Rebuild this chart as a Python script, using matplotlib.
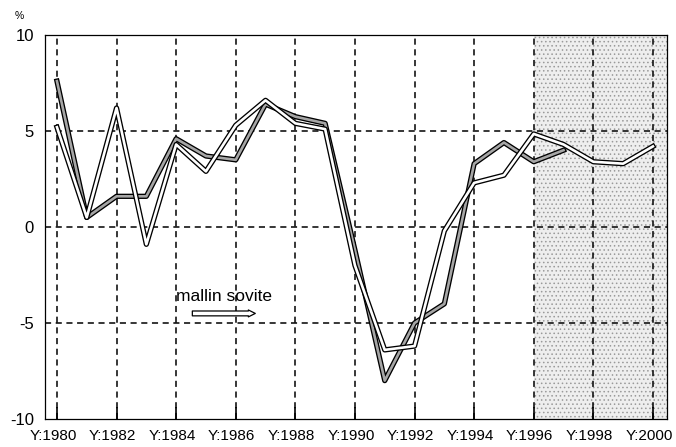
import matplotlib.pyplot as plt
import matplotlib.patheffects as pe
import matplotlib.transforms as mtransforms

# data (per cent)
years = list(range(1980, 2001))
actual_years = list(range(1980, 1998))
actual = [7.6, 0.5, 1.6, 1.6, 4.6, 3.7, 3.5, 6.4, 5.75, 5.4,
          -1.2, -8.0, -5.0, -4.0, 3.3, 4.4, 3.4, 4.0]
model = [5.2, 0.5, 6.2, -0.9, 4.3, 2.9, 5.3, 6.6, 5.4, 5.1,
         -2.0, -6.4, -6.2, -0.2, 2.3, 2.7, 4.85, 4.3, 3.4, 3.3, 4.2]
tick_years = list(range(1980, 2001, 2))
tick_labels = [f"Y:{y}" for y in tick_years]
forecast_start = 1996

plt.rcParams['font.family'] = ['Liberation Sans', 'DejaVu Sans']
plt.rcParams['hatch.linewidth'] = 0.6

fig = plt.figure(figsize=(6.76, 4.47), dpi=100)
ax = fig.add_axes([0.0666, 0.0626, 0.920, 0.859])

x0, x1 = 1979.6, 2000.47
ax.set_xlim(x0, x1)
ax.set_ylim(-10, 10)

# stippled forecast area
ax.axvspan(forecast_start, x1, facecolor='#eeeeee', edgecolor='#9a9a9a',
           hatch='....', linewidth=0, zorder=0)

# dashed grid
for y in [5, 0, -5]:
    ax.axhline(y, color='black', lw=1.1, ls=(0, (4, 3)), zorder=1)
for x in tick_years:
    ax.axvline(x, color='black', lw=1.1, ls=(0, (4, 3)), zorder=1)

# two double-stroked lines
outline = [pe.Stroke(linewidth=3.8, foreground='black', joinstyle='round'),
           pe.Normal()]
ax.plot(actual_years, actual, color='#a6a6a6', lw=1.9, solid_joinstyle='round',
        path_effects=outline, zorder=3)
ax.plot(years, model, color='white', lw=1.9, solid_joinstyle='round',
        path_effects=outline, zorder=4)

# label for the model line
ax.text(1984.0, -3.6, "mallin sovite", fontsize=12.5, va='center', ha='left')
ax.annotate('', xy=(1986.75, -4.5), xytext=(1984.45, -4.5),
            arrowprops=dict(arrowstyle='simple,head_length=0.5,head_width=0.5,tail_width=0.35',
                            fc='white', ec='black', lw=0.9))

ax.set_xticks(tick_years)
ax.set_xticklabels(tick_labels)
ax.set_yticks([-10, -5, 0, 5, 10])
ax.set_yticklabels(['-10', '-5', '0', '5', '10'])
ax.tick_params(axis='x', direction='in', length=9, width=1.2, pad=7,
               labelsize=11)
ax.tick_params(axis='y', length=0, pad=8, labelsize=12)

# labels sit a touch left of their ticks in the original
shift = mtransforms.ScaledTranslation(-4 / 100, 0, fig.dpi_scale_trans)
for lab in ax.get_xticklabels():
    lab.set_transform(lab.get_transform() + shift)

for s in ax.spines.values():
    s.set_linewidth(0.9)

fig.text(0.022, 0.965, '%', fontsize=7.5, ha='left', va='center')

fig.savefig('out.png', dpi=100)
